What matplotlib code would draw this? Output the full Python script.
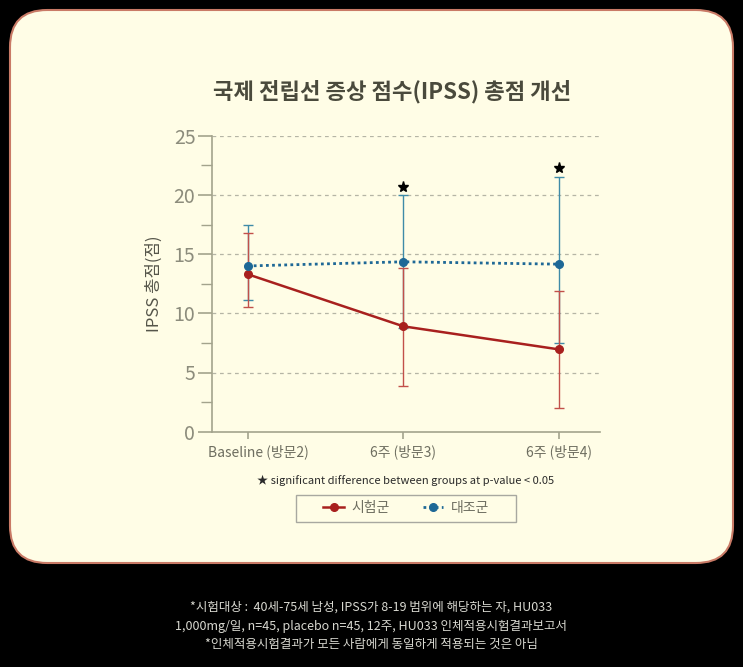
import matplotlib
matplotlib.use("Agg")
import matplotlib.pyplot as plt
import matplotlib.transforms as mtransforms
from matplotlib.patches import FancyBboxPatch, Rectangle
import numpy as np

plt.rcParams['font.family'] = ['Noto Sans CJK KR', 'DejaVu Sans']

# data
visits = ['Baseline (방문2)', '6주 (방문3)', '6주 (방문4)']
test_mean = [13.3, 8.9, 6.95]
test_low = [10.5, 3.9, 2.0]
test_high = [16.8, 13.8, 11.9]
ctrl_mean = [14.0, 14.35, 14.15]
ctrl_low = [11.1, 8.8, 7.45]
ctrl_high = [17.45, 19.95, 21.5]
star_x = [1, 2]
star_y = [20.7, 22.3]
y_ticks = [0, 5, 10, 15, 20, 25]

title = '국제 전립선 증상 점수(IPSS) 총점 개선'
ylabel = 'IPSS 총점(점)'
sig_note = '★ significant difference between groups at p-value < 0.05'
footnote = ('*시험대상 :  40세-75세 남성, IPSS가 8-19 범위에 해당하는 자, HU033\n'
            '1,000mg/일, n=45, placebo n=45, 12주, HU033 인체적용시험결과보고서\n'
            '*인체적용시험결과가 모든 사람에게 동일하게 적용되는 것은 아님')

cream = '#FFFDE6'
red = '#A8201E'
red_err = '#C2504A'
blue = '#1E6896'
blue_err = '#3F8BA8'
axis_col = '#A3A38C'
tick_col = '#8C8C7C'

W, H = 743, 667
fig = plt.figure(figsize=(W / 100, H / 100), dpi=100, facecolor='black')

# rounded card
card = FancyBboxPatch((10 / W, 1 - 563 / H), 723 / W, 553 / H,
                      boxstyle='round,pad=0,rounding_size=0.05',
                      mutation_aspect=W / H, transform=fig.transFigure,
                      facecolor=cream, edgecolor='#C97A66', linewidth=1.5,
                      zorder=-1)
fig.patches.append(card)

ax = fig.add_axes([212 / W, 1 - 431.7 / H, 388 / W, 296 / H])
ax.set_facecolor('none')

x = np.arange(len(visits))
t_mean = np.array(test_mean)
c_mean = np.array(ctrl_mean)

ax.errorbar(x, ctrl_mean, yerr=[c_mean - np.array(ctrl_low), np.array(ctrl_high) - c_mean],
            fmt='none', ecolor=blue_err, elinewidth=1, capsize=3.8, capthick=1, zorder=2)
ax.errorbar(x, test_mean, yerr=[t_mean - np.array(test_low), np.array(test_high) - t_mean],
            fmt='none', ecolor=red_err, elinewidth=1, capsize=3.8, capthick=1, zorder=2)
ax.plot(x, test_mean, color=red, lw=1.8, marker='o', ms=5.5, label='시험군', zorder=4)
ax.plot(x, ctrl_mean, color=blue, lw=2, ls=(0, (1, 1.2)), marker='o', ms=5.5,
        label='대조군', zorder=5)
ax.plot(star_x, star_y, ls='none', marker='*', ms=8, color='black', zorder=6)

ax.set_xlim(-0.229, 2.263)
ax.set_ylim(0, 25)
ax.set_yticks(y_ticks)
ax.set_yticks(np.arange(2.5, 25, 5), minor=True)
ax.set_xticks(x)
ax.set_xticklabels(visits)
for v in y_ticks[1:]:
    ax.axhline(v, color='#B5B5A5', lw=0.9, ls=(0, (3, 3)), zorder=1)

for s in ['top', 'right']:
    ax.spines[s].set_visible(False)
for s in ['left', 'bottom']:
    ax.spines[s].set_color(axis_col)
    ax.spines[s].set_linewidth(1.2)
ax.tick_params(axis='y', which='major', length=10, width=1.2, color=axis_col,
               labelsize=14, labelcolor=tick_col, pad=2)
ax.tick_params(axis='y', which='minor', length=8, width=1, color=axis_col)
ax.tick_params(axis='x', length=5, width=1.2, color=axis_col, labelsize=10,
               labelcolor='#6E6E60', pad=4)

# first label sits a little to the right of its tick in the original
first = ax.get_xticklabels()[0]
first.set_transform(first.get_transform() +
                    mtransforms.ScaledTranslation(11 / 100, 0, fig.dpi_scale_trans))

ax.set_ylabel(ylabel, fontsize=12, color='#55554A', labelpad=8)

fig.text(392 / W, 1 - 92 / H, title, ha='center', va='center', fontsize=16,
         fontweight='bold', color='#4A4A3C')
fig.text(406 / W, 1 - 480 / H, sig_note, ha='center', va='center', fontsize=8,
         color='#2A2A2A')

# legend without its own frame, with a wider box drawn behind it
ax.legend(loc='center', bbox_to_anchor=(0.5, -0.258), ncol=2, frameon=False,
          fontsize=10, labelcolor='#6E6E60', handlelength=1.5, columnspacing=2.4,
          handletextpad=0.5, borderaxespad=0)
box = Rectangle((296 / W, 1 - 522 / H), 220 / W, 27 / H, transform=fig.transFigure,
                facecolor=cream, edgecolor='#A8A8A0', linewidth=1, zorder=-0.5)
fig.patches.append(box)

fig.text(371 / W, 1 - 626 / H, footnote, ha='center', va='center', fontsize=9,
         color='#D8D8D0', linespacing=1.55)

fig.savefig('out.png', dpi=100, facecolor='black')
